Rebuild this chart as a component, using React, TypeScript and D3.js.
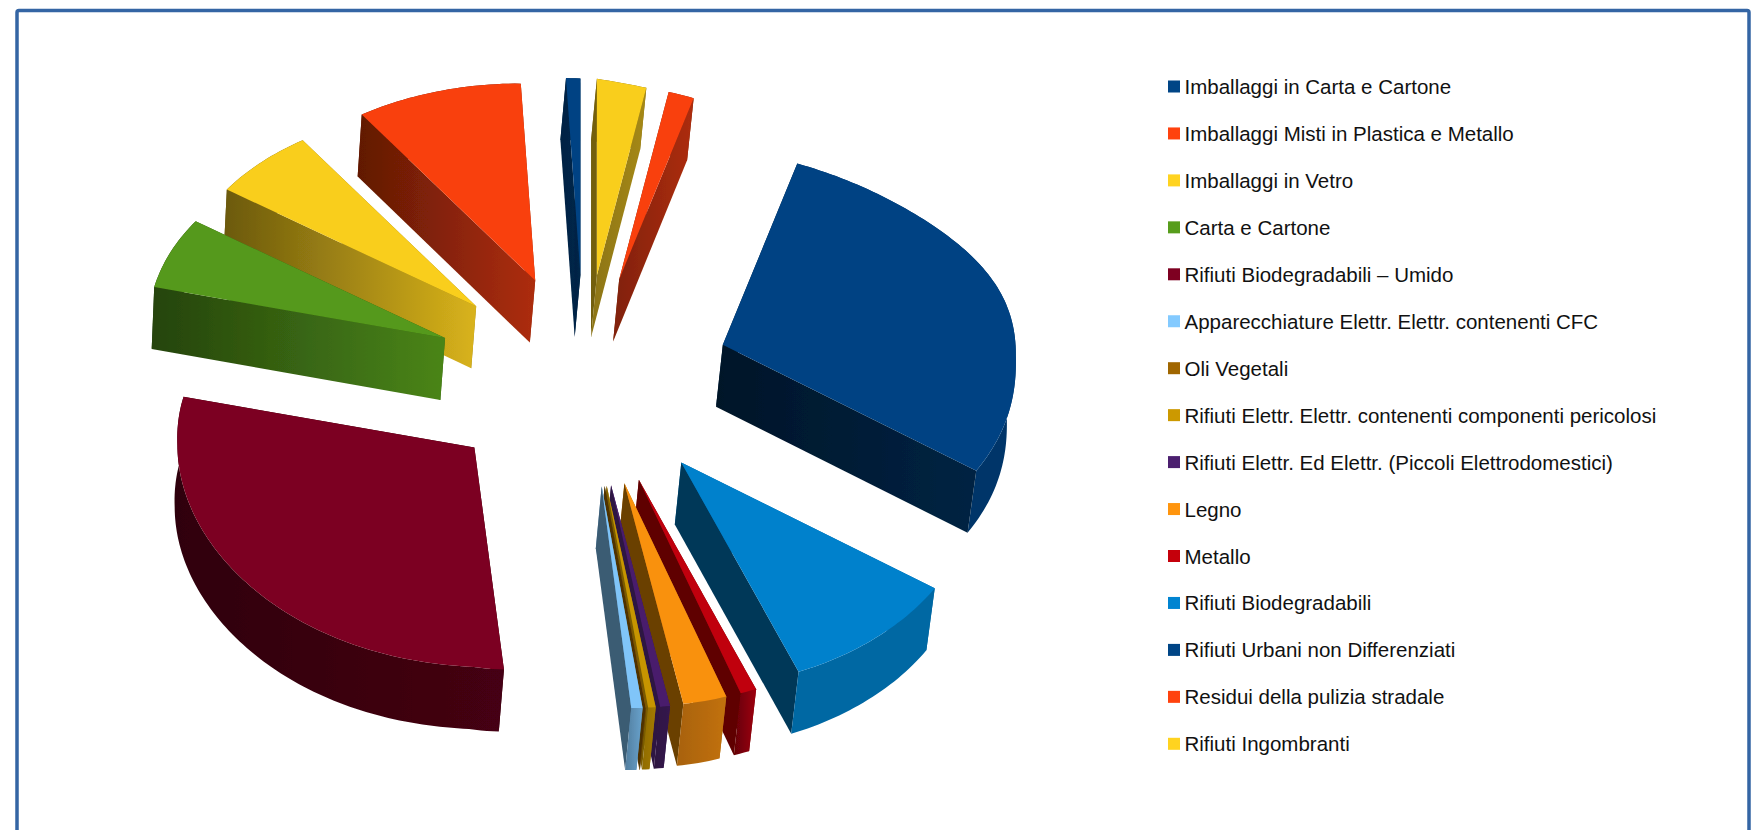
import React from "react";
import * as d3 from "d3";

// ---- data -------------------------------------------------------------
const categories = [
  "Imballaggi in Carta e Cartone",
  "Imballaggi Misti in Plastica e Metallo",
  "Imballaggi in Vetro",
  "Carta e Cartone",
  "Rifiuti Biodegradabili – Umido",
  "Apparecchiature Elettr. Elettr. contenenti CFC",
  "Oli Vegetali",
  "Rifiuti Elettr. Elettr. contenenti componenti pericolosi",
  "Rifiuti Elettr. Ed Elettr. (Piccoli Elettrodomestici)",
  "Legno",
  "Metallo",
  "Rifiuti Biodegradabili",
  "Rifiuti Urbani non Differenziati",
  "Residui della pulizia stradale",
  "Rifiuti Ingombranti",
];
const shares = [0.75, 8.9, 5.8, 5.8, 30.3, 0.6, 0.03, 0.4, 0.53, 2.33, 0.86, 9.5, 30.1, 1.39, 2.7];

// ---- style ------------------------------------------------------------
const colors = [
  "#004586", "#ff420e", "#ffd320", "#579d1c", "#7e0021", "#83caff", "#a06600", "#cc9900",
  "#4b1f6f", "#ff950e", "#c5000b", "#0084d1", "#004586", "#ff420e", "#ffd320",
];
// wall brightness, left → right: [start edge], [end edge], [arc]
const shades: number[][][] = [
  [[.5, .55], [.5, .55], [.6, .6]],
  [[.6, .6], [.38, .68], [.4, .4]],
  [[.6, .6], [.42, .85], [.4, .4]],
  [[.6, .6], [.43, .85], [.4, .4]],
  [[.4, .4], [.4, .4], [.37, .55]],
  [[.45, .45], [.7, .7], [.62, .8]],
  [[.5, .5], [.5, .5], [.7, .7]],
  [[.6, .6], [.7, .7], [.7, .8]],
  [[.6, .6], [.7, .7], [.58, .7]],
  [[.42, .42], [.7, .7], [.66, .76]],
  [[.48, .48], [.6, .6], [.5, .8]],
  [[.42, .42], [.8, .8], [.78, .78]],
  [[.3, .5], [.5, .5], [.78, .78]],
  [[.5, .68], [.5, .5], [.5, .5]],
  [[.55, .65], [.45, .45], [.5, .5]],
];
// small hand offsets of the exploded slices (px)
const nudges: P[] = [
  [0, 0], [0, 0], [0, 0], [0, 0], [5, -3], [0, 0], [0, 0], [0, 0],
  [0, 0], [0, 0], [0, 0], [0, 0], [-3, 2], [3, 2], [0, 0],
];
const W = 1762, H = 830;
const CX = 584, CY = 381, EX = 152, EY = 106;
const RX = 297, RY = 208, PERSP = 0.055;
const LEG_X = 1168, LEG_Y = 86.5, LEG_STEP = 46.95;

type P = [number, number];
const shade = (c: string, k: number) => {
  const r = d3.rgb(c);
  return d3.rgb(r.r * k, r.g * k, r.b * k).formatRgb();
};
const down = (p: P): P => [p[0] - (2.5 + (p[0] - 150) * 0.0075), p[1] + 62];
const line = d3.line<P>();

// the reference ellipse is not a clean one: it leans a little to the lower right
const rimDx = (u: number, v: number) => {
  if (u > 0) return u * (-4 + (v > 0 ? 40 * v ** 1.5 * (1 - 0.75 * v) : 0));
  return v < 0 ? 9 * u * -v : 0;
};
const rimDy = (u: number, v: number) => {
  if (u > 0) return 9 * (1 - Math.exp(-5 * u)) + (v < 0 ? 45 * (u * v) ** 2 : 0);
  return -3 * (1 - Math.exp(5 * u));
};

const arcs = d3.pie<number>().sort(null).startAngle(0).endAngle(-2 * Math.PI)(shares);

const slices = arcs.map((a) => {
  const i = a.index;
  const mid = (a.startAngle + a.endAngle) / 2 - Math.PI / 2;
  const apex: P = [
    CX + EX * Math.cos(mid) + nudges[i][0],
    CY + EY * Math.sin(mid) + nudges[i][1],
  ];
  const at = (ang: number): P => {
    const t = ang - Math.PI / 2, u = Math.cos(t), v = Math.sin(t);
    return [apex[0] + RX * u + rimDx(u, v), apex[1] + RY * v * (1 + PERSP * v) + rimDy(u, v)];
  };
  const n = Math.max(2, Math.ceil(Math.abs(a.endAngle - a.startAngle) / 0.02));
  const rim = d3.range(n + 1).map((k) => at(a.startAngle + ((a.endAngle - a.startAngle) * k) / n));
  return { i, apex, rim, key: apex[1] - 0.3 * apex[0] };
});
const order = [...slices].sort((a, b) => a.key - b.key);

function wall(top: P[], name: string, c: string, s: number[]) {
  const pts = [...top, ...top.map(down).reverse()];
  const xs = pts.map((p) => p[0]);
  const meanY = d3.mean(pts, (p) => p[1]) as number;
  return { id: name, pts, x1: d3.min(xs) as number, x2: d3.max(xs) as number, c0: shade(c, s[0]), c1: shade(c, s[1]), meanY };
}

export default function App() {
  const walls = slices.map((sl) => {
    const c = colors[sl.i], s = shades[sl.i];
    const first = sl.rim[0], last = sl.rim[sl.rim.length - 1];
    return [
      wall(sl.rim, `a${sl.i}`, c, s[2]),
      wall([sl.apex, first], `s${sl.i}`, c, s[0]),
      wall([sl.apex, last], `e${sl.i}`, c, s[1]),
    ];
  });
  return (
    <svg width={W} height={H} viewBox={`0 0 ${W} ${H}`} style={{ position: "absolute", left: 0, top: 0, display: "block" }}>
      <defs>
        {walls.flat().map((w) => (
          <linearGradient key={w.id} id={w.id} gradientUnits="userSpaceOnUse" x1={w.x1} x2={w.x2} y1={0} y2={0}>
            <stop offset="0" stopColor={w.c0} />
            <stop offset="1" stopColor={w.c1} />
          </linearGradient>
        ))}
        <filter id="soft" x="-5%" y="-5%" width="110%" height="110%">
          <feGaussianBlur stdDeviation="0.45" />
        </filter>
      </defs>
      <rect x={0} y={0} width={W} height={H} fill="#fff" />
      <rect x={17} y={10.5} width={1732} height={H + 20} rx={2} fill="#fff" stroke="#3465a4" strokeWidth={3.5} />
      <g filter="url(#soft)">
        {order.map((sl) => (
          <g key={sl.i}>
            {[...walls[sl.i]]
              .sort((a, b) => a.meanY - b.meanY)
              .map((w) => (
                <path key={w.id} d={line(w.pts) + "Z"} fill={`url(#${w.id})`} />
              ))}
            <path d={line([sl.apex, ...sl.rim]) + "Z"} fill={shade(colors[sl.i], 0.975)} />
          </g>
        ))}
      </g>
      <g fontFamily="'Liberation Sans', Arial, sans-serif" fontSize={20.5} fill="#111">
        {categories.map((name, i) => {
          const y = LEG_Y + LEG_STEP * i;
          return (
            <g key={name}>
              <rect x={LEG_X} y={y - 6} width={12} height={12} fill={colors[i]} />
              <text x={LEG_X + 16.5} y={y + 7.5}>{name}</text>
            </g>
          );
        })}
      </g>
    </svg>
  );
}
